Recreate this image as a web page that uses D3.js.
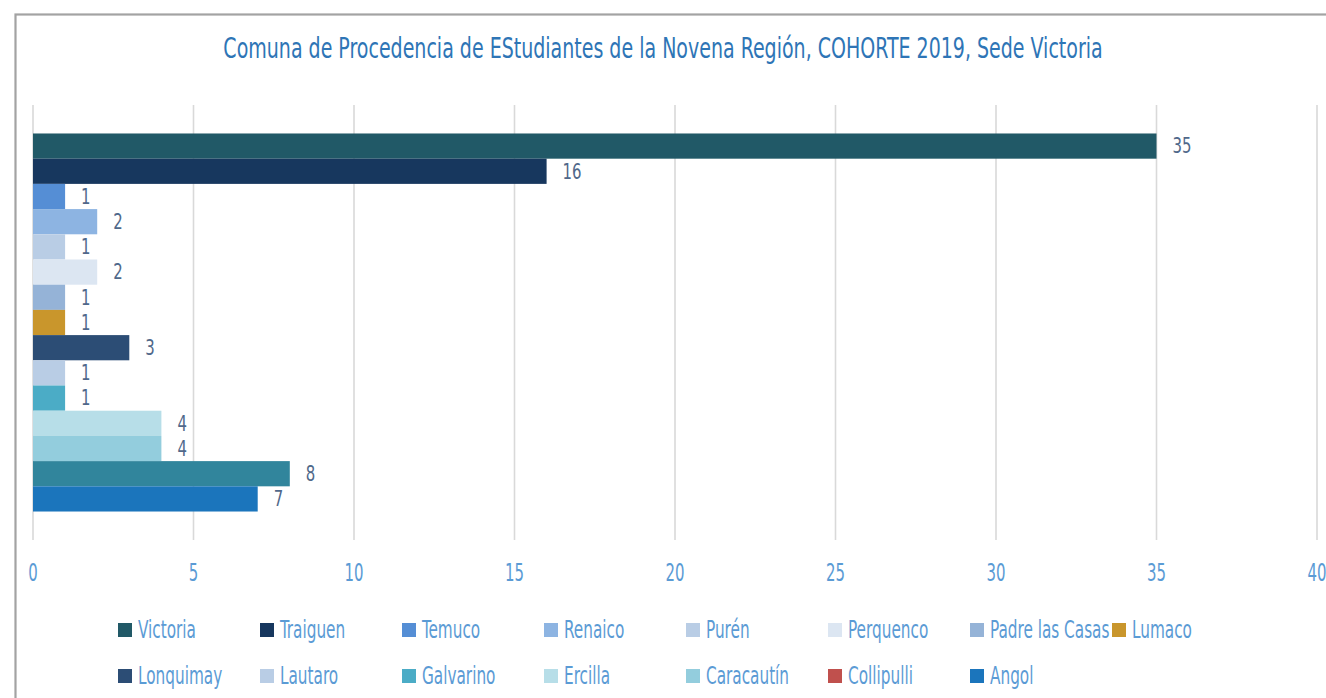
<!DOCTYPE html>
<html>
<head>
<meta charset="utf-8">
<script src="https://cdn.jsdelivr.net/npm/d3@7"></script>
<style>
  body { margin: 0; background: #fff; overflow: hidden; }
  text { font-family: "Liberation Sans Narrow", "Arial Narrow", "DejaVu Sans Condensed", sans-serif; }
</style>
</head>
<body>
<svg width="1326" height="698"></svg>
<script>
// data
const titulo = "Comuna de Procedencia de EStudiantes de la Novena Región, COHORTE 2019, Sede Victoria";
const comunas = ["Victoria", "Traiguen", "Temuco", "Renaico", "Purén", "Perquenco", "Padre las Casas", "Lumaco",
                 "Lonquimay", "Lautaro", "Galvarino", "Ercilla", "Caracautín", "Collipulli", "Angol"];
const estudiantes = [35, 16, 1, 2, 1, 2, 1, 1, 3, 1, 1, 4, 4, 8, 7];
const xTicks = [0, 5, 10, 15, 20, 25, 30, 35, 40];
const barColors = ["#215967", "#17375E", "#558ED5", "#8DB4E2", "#B9CDE5", "#DCE6F2", "#95B3D7", "#C9962C",
                   "#2C4D75", "#B9CDE5", "#4BACC6", "#B7DEE8", "#93CDDD", "#31859C", "#1B75BC"];
// the legend swatch for Collipulli is red in the original, its bar is teal
const legendColors = ["#215967", "#17375E", "#558ED5", "#8DB4E2", "#B9CDE5", "#DCE6F2", "#95B3D7", "#C9962C",
                      "#2C4D75", "#B9CDE5", "#4BACC6", "#B7DEE8", "#93CDDD", "#C0504D", "#1B75BC"];

const svg = d3.select("svg");
const width = +svg.attr("width");
const height = +svg.attr("height");
const plot = {left: 33, right: 1317, top: 105, bottom: 540};

// the original font is very condensed: find how much to squeeze
// the installed font so a sample string gets the width seen in the picture
function squeezeFor(sample, size, target, weight) {
  const t = svg.append("text").style("font-size", size + "px").style("font-weight", weight || 400).text(sample);
  const w = t.node().getComputedTextLength();
  t.remove();
  return Math.min(1, target / w);
}
const kTitle = squeezeFor(titulo, 29, 880);
const kLegend = squeezeFor("Victoria", 25, 58);
const kTick = squeezeFor("15", 24, 19);
const kLabel = squeezeFor("35", 22, 19);

// helper: condensed text anchored at (x,y)
function cText(g, x, y, str, size, color, anchor, k) {
  return g.append("text")
    .attr("transform", `translate(${x},${y}) scale(${k},1)`)
    .attr("text-anchor", anchor || "start")
    .attr("dominant-baseline", "central")
    .style("font-size", size + "px")
    .style("fill", color)
    .text(str);
}

// chart frame (cut by the picture on the right and bottom)
svg.append("rect")
  .attr("x", 15.5).attr("y", 14.5)
  .attr("width", width).attr("height", height)
  .style("fill", "none")
  .style("stroke", "#A3A3A3")
  .style("stroke-width", 2.2);

// title
cText(svg, 663, 48, titulo, 29, "#2E75B6", "middle", kTitle);

const xScale = d3.scaleLinear().domain([0, 40]).range([plot.left, plot.right]);
const yScale = d3.scaleBand()
  .domain(comunas)
  .range([plot.top, plot.bottom])
  .paddingInner(0)
  .paddingOuter(1.13);

// vertical gridlines
svg.append("g").selectAll("line")
  .data(xTicks)
  .enter()
  .append("line")
  .attr("x1", d => xScale(d)).attr("x2", d => xScale(d))
  .attr("y1", plot.top).attr("y2", plot.bottom)
  .style("stroke", "#D9D9D9")
  .style("stroke-width", 1.6);

// tick labels
const tickG = svg.append("g");
xTicks.forEach(t => cText(tickG, xScale(t), 573, t, 24, "#5B9BD5", "middle", kTick));

// bars
const rows = comunas.map((c, i) => ({name: c, value: estudiantes[i], color: barColors[i]}));
svg.append("g").selectAll("rect")
  .data(rows)
  .enter()
  .append("rect")
  .attr("x", xScale(0))
  .attr("y", d => yScale(d.name))
  .attr("width", d => xScale(d.value) - xScale(0))
  .attr("height", yScale.bandwidth())
  .style("fill", d => d.color);

// value labels
const lblG = svg.append("g");
rows.forEach(d => cText(lblG, xScale(d.value) + 16, yScale(d.name) + yScale.bandwidth() / 2, d.value, 22, "#50688A", "start", kLabel));

// legend: 8 columns, 2 rows
const legG = svg.append("g");
comunas.forEach((c, i) => {
  const col = i % 8, row = Math.floor(i / 8);
  const lx = 118 + col * 142, ly = 630 + row * 46;
  legG.append("rect")
    .attr("x", lx).attr("y", ly - 7)
    .attr("width", 14).attr("height", 14)
    .style("fill", legendColors[i]);
  cText(legG, lx + 20, ly - 1, c, 25, "#5B9BD5", "start", kLegend);
});
</script>
</body>
</html>
